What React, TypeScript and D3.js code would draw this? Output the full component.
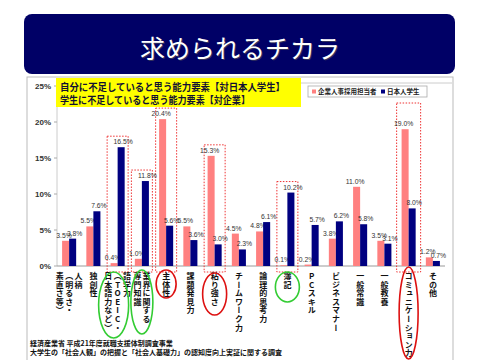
import React from "react";
import * as d3 from "d3";

const categories: string[][] = [
  ["人柄", "（明るさ・", "素直さ等）"],
  ["独創性"],
  ["語学力", "（TOEIC・", "日本語力など）"],
  ["業界に関する", "専門知識"],
  ["主体性"],
  ["課題発見力"],
  ["粘り強さ"],
  ["チームワーク力"],
  ["論理的思考力"],
  ["簿記"],
  ["PCスキル"],
  ["ビジネスマナー"],
  ["一般常識"],
  ["一般教養"],
  ["コミュニケーション力"],
  ["その他"],
];
const companyValues = [3.5, 5.5, 0.4, 1.0, 20.4, 5.5, 15.3, 4.5, 4.8, 0.1, 0.2, 3.8, 11.0, 3.5, 19.0, 1.2];
const studentValues = [3.8, 7.6, 16.5, 11.8, 5.6, 3.6, 3.0, 2.3, 6.1, 10.2, 5.7, 6.2, 5.8, 3.1, 8.0, 0.7];
const seriesNames = ["企業人事採用担当者", "日本人学生"];
const yTicks = [0, 5, 10, 15, 20, 25];
const boxedIdx = [2, 3, 4, 6, 9, 14];
const greenIdx = [2, 3, 9];
const redIdx = [4, 6, 14];
const titleText = "求められるチカラ";
const noteLines = ["自分に不足していると思う能力要素【対日本人学生】", "学生に不足していると思う能力要素【対企業】"];
const sourceLines = ["経済産業省 平成21年度就職支援体制調査事業", "大学生の「社会人観」の把握と「社会人基礎力」の認知度向上実証に関する調査"];

const PINK = "#FF8080";
const NAVY = "#000080";
const JP = "'Noto Sans CJK JP', 'Noto Sans', sans-serif";
const LAT = "'Liberation Sans', Arial, sans-serif";

export default function App() {
  const keys = categories.map((_, i) => String(i));
  const x0 = d3.scaleBand<string>().domain(keys).range([57, 445]).paddingInner(0.42).paddingOuter(0.21);
  const x1 = d3.scaleBand<string>().domain(seriesNames).range([0, x0.bandwidth()]);
  const y = d3.scaleLinear().domain([0, 25]).range([266, 86]);
  const cx = (i: number) => (x0(String(i)) as number) + x0.bandwidth() / 2;

  const ellipseGeom: Record<number, [number, number, number]> = {
    2: [305, 15, 33],
    3: [302, 11, 32],
    9: [287, 12, 15],
    4: [284, 10, 14],
    6: [294, 12, 21],
    14: [313, 9.5, 46],
  };

  return (
    <svg width={480} height={360} style={{ position: "absolute", left: 0, top: 0 }}>
      <rect x={0} y={0} width={480} height={360} fill="#fff" />
      {/* title */}
      <rect x={24} y={14} width={431} height={60} rx={8} fill="#000066" />
      <text x={241} y={59} textAnchor="middle" fontSize={25} fontFamily={JP} fill="#555" opacity={0.6}>{titleText}</text>
      <text x={240} y={58} textAnchor="middle" fontSize={25} fontFamily={JP} fill="#fff">{titleText}</text>

      {/* frame */}
      <rect x={27} y={77} width={426} height={300} fill="#fff" stroke="#bbb" strokeWidth={1} />
      <line x1={57} x2={452} y1={83} y2={83} stroke="#ccc" />

      {/* y axis */}
      <line x1={57} x2={57} y1={y(25)} y2={y(0)} stroke="#ccc" />
      {yTicks.map((t) => (
        <g key={t}>
          <line x1={54} x2={57} y1={y(t)} y2={y(t)} stroke="#aaa" />
          <text x={51} y={y(t) + 3} textAnchor="end" fontSize={8} fontWeight="bold" fontFamily={LAT} fill="#333">{t}%</text>
        </g>
      ))}
      <line x1={57} x2={445} y1={y(0)} y2={y(0)} stroke="#999" />

      {/* dotted boxes */}
      {boxedIdx.map((i) => {
        const half = i === 14 ? 12 : 10.5;
        const top = i === 14 ? 103 : y(Math.max(companyValues[i], studentValues[i])) - 11;
        return (
          <rect key={"b" + i} x={cx(i) - half} y={top} width={half * 2} height={272 - top}
            fill="none" stroke="#e33" strokeWidth={1} strokeDasharray="1.5,1.5" />
        );
      })}

      {/* bars */}
      {categories.map((_, i) => {
        const vals = [companyValues[i], studentValues[i]];
        return (
          <g key={"g" + i}>
            {vals.map((v, s) => {
              const bx = (x0(String(i)) as number) + (x1(seriesNames[s]) as number);
              const w = x1.bandwidth();
              return (
                <g key={s}>
                  <rect x={bx} y={y(v)} width={w} height={y(0) - y(v)} fill={s === 0 ? PINK : NAVY} />
                  <text x={bx + w / 2 + (s === 0 ? -1.5 : 2)} y={y(v) - 3} textAnchor="middle" fontSize={6.8}
                    fontFamily={LAT} fill="#333">{v.toFixed(1)}%</text>
                </g>
              );
            })}
          </g>
        );
      })}

      {/* category labels (vertical writing) */}
      {categories.map((cols, i) => {
        const n = cols.length;
        const sp = n === 3 ? 9.3 : 9;
        return (
          <g key={"l" + i}>
            {cols.map((col, ci) => {
              const colX = cx(i) + ((n - 1) / 2 - ci) * sp;
              return (
                <text key={ci} x={colX} y={272} fontSize={8} fontWeight="bold" fontFamily={JP} fill="#111"
                  style={{ writingMode: "vertical-rl", textOrientation: "upright", letterSpacing: "0.6px" } as any}>
                  {col}
                </text>
              );
            })}
          </g>
        );
      })}

      {/* ellipses */}
      {greenIdx.concat(redIdx).map((i) => {
        const [cy, rx, ry] = ellipseGeom[i];
        const green = greenIdx.includes(i);
        return (
          <ellipse key={"e" + i} cx={cx(i) - (i === 2 ? 4 : 0)} cy={cy} rx={rx} ry={ry} fill="none"
            stroke={green ? "#33cc33" : "#dd1111"} strokeWidth={1.6} />
        );
      })}

      {/* yellow note */}
      <rect x={56} y={78} width={245} height={29} fill="#ffff00" />
      <text x={60} y={91} fontSize={9.8} fontWeight="bold" fontFamily={JP} fill="#111133" textLength={225} lengthAdjust="spacingAndGlyphs">{noteLines[0]}</text>
      <text x={60} y={103.5} fontSize={9.8} fontWeight="bold" fontFamily={JP} fill="#111133" textLength={190} lengthAdjust="spacingAndGlyphs">{noteLines[1]}</text>

      {/* legend */}
      <rect x={308} y={86} width={119} height={11} fill="#fff" stroke="#aaa" strokeWidth={0.8} />
      <rect x={312} y={89.5} width={4} height={4} fill={PINK} />
      <text x={318} y={94.3} fontSize={6.5} fontWeight="bold" fontFamily={JP} fill="#222">{seriesNames[0]}</text>
      <rect x={381} y={89.5} width={4} height={4} fill={NAVY} />
      <text x={387} y={94.3} fontSize={6.5} fontWeight="bold" fontFamily={JP} fill="#222">{seriesNames[1]}</text>

      {/* source */}
      <text x={30} y={346} fontSize={7} fontWeight="bold" fontFamily={JP} fill="#111">{sourceLines[0]}</text>
      <text x={30} y={355} fontSize={7} fontWeight="bold" fontFamily={JP} fill="#111">{sourceLines[1]}</text>
    </svg>
  );
}
